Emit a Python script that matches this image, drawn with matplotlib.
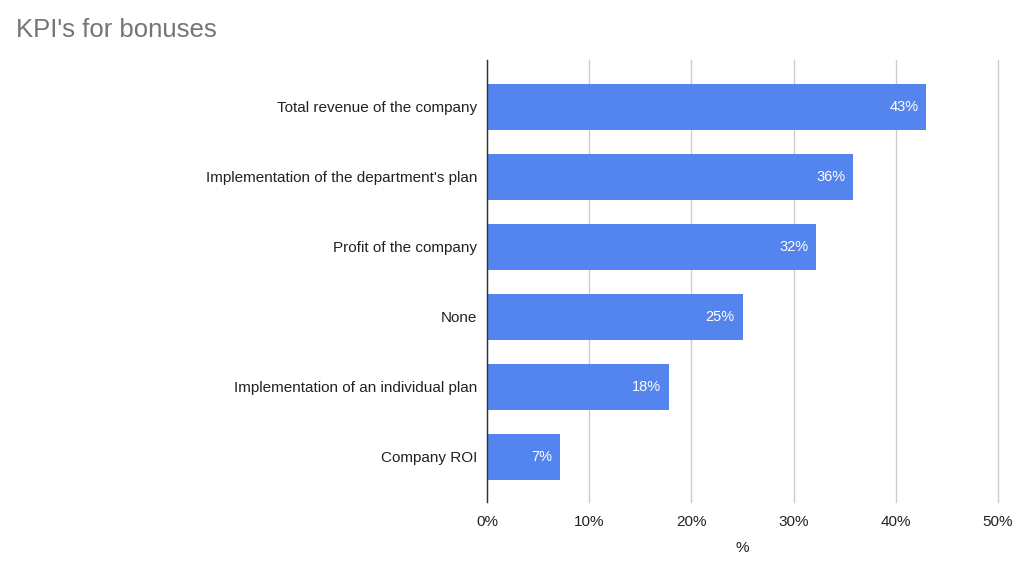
import matplotlib
matplotlib.use("Agg")
import matplotlib.pyplot as plt
from matplotlib.ticker import FuncFormatter

categories = [
    "Total revenue of the company",
    "Implementation of the department's plan",
    "Profit of the company",
    "None",
    "Implementation of an individual plan",
    "Company ROI",
]
values = [42.95, 35.8, 32.2, 25.0, 17.8, 7.1]
value_labels = ["43%", "36%", "32%", "25%", "18%", "7%"]
x_ticks = [0, 10, 20, 30, 40, 50]

plt.rcParams['font.family'] = ['Liberation Sans', 'DejaVu Sans']

fig = plt.figure(figsize=(10.24, 5.75), dpi=100)
ax = fig.add_axes([487/1024, (575-502)/575, (998-487)/1024, (502-60)/575])

ypos = list(range(len(categories)))
bars = ax.barh(ypos, values, height=0.657, color="#5484ed", zorder=3)

for y, v, lab in zip(ypos, values, value_labels):
    ax.annotate(lab, xy=(v, y), xytext=(-5.5, 0), textcoords="offset points",
                ha="right", va="center", color="white", fontsize=10.5,
                fontweight="medium", zorder=4)

ax.set_ylim(len(categories) - 1 + 0.643, -0.671)
ax.set_xlim(0, 50)
ax.set_yticks(ypos)
ax.set_yticklabels(categories, fontsize=11, color="#222222")
ax.set_xticks(x_ticks)
ax.xaxis.set_major_formatter(FuncFormatter(lambda v, p: f"{int(v)}%"))
ax.tick_params(axis="x", length=0, labelsize=11, colors="#222222", pad=9)
ax.tick_params(axis="y", length=0, pad=7)
ax.grid(axis="x", color="#cccccc", linewidth=1, zorder=0)
for gl in ax.get_xgridlines():
    gl.set_clip_on(False)
for s in ["top", "right", "bottom"]:
    ax.spines[s].set_visible(False)
ax.spines["left"].set_color("#333333")
ax.spines["left"].set_linewidth(1)
ax.spines["left"].set_zorder(5)
ax.set_xlabel("%", fontsize=11, color="#222222", labelpad=9)

fig.text(16/1024, 1 - 30/575, "KPI's for bonuses", fontsize=18.5, color="#757575",
         ha="left", va="center")

fig.savefig("out.png", dpi=100, facecolor="white")
